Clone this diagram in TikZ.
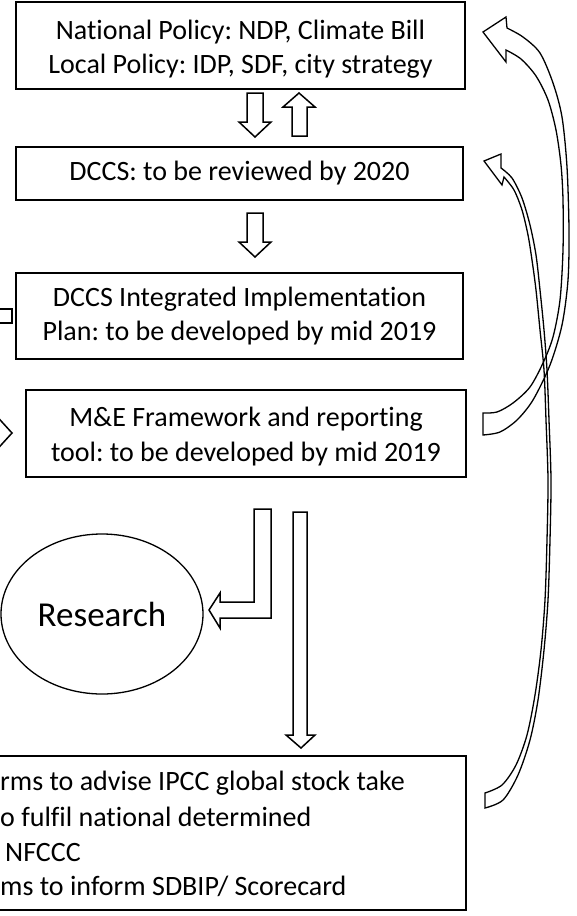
\documentclass[tikz,border=0pt]{standalone}
\usepackage{fontspec}
\setmainfont[Ligatures={NoCommon}]{Carlito}
\usetikzlibrary{shapes.geometric}
\frenchspacing
\begin{document}
\begin{tikzpicture}[x=1pt,y=-1pt,
  box/.style={draw, line width=1.3pt, inner sep=0pt, align=center, font=\fontsize{28}{34.5}\selectfont},
  txt/.style={inner sep=0pt, anchor=base west, font=\fontsize{28}{34.5}\selectfont},
  barrow/.style={draw, line width=1.5pt, fill=white, line join=miter},
  carrow/.style={draw, line width=1.3pt, line join=miter}]
\useasboundingbox (0,0) rectangle (577,916);
\clip (0,0) rectangle (577,916);
% boxes
\node[box, minimum width=449pt, minimum height=87pt] (pol) at (240.5,45.5) {\rule{0pt}{27pt}National Policy: NDP, Climate Bill\\Local Policy: IDP, SDF, city strategy};
\node[box, minimum width=447pt, minimum height=53pt] (dccs) at (239.5,173.5) {DCCS: to be reviewed by 2020};
\node[box, minimum width=447pt, minimum height=86pt] (iip) at (239.5,316) {DCCS Integrated Implementation\\Plan: to be developed by mid 2019};
\node[box, minimum width=440pt, minimum height=87pt] (me) at (246,433.5) {\rule{0pt}{25pt}M\&E Framework and reporting\\tool: to be developed by mid 2019};
\node[box, minimum width=566pt, minimum height=154pt] (out) at (183,833) {};
\node[txt] (l1) at (0,790) {rms to advise IPCC global stock take};
\node[txt] (l2) at (0,826) {o fulfil national determined};
\node[txt] (l3) at (5,861) {NFCCC};
\node[txt] (l4) at (0,895) {ms to inform SDBIP/ Scorecard};
\node[draw, ellipse, line width=1.3pt, inner sep=0pt, minimum width=202pt, minimum height=160pt, font=\fontsize{35}{40}\selectfont] (res) at (102,614) {Research};
% straight block arrows
\draw[barrow] (247,93) -- (263,93) -- (263,122) -- (271,122) -- (255,137) -- (239,122) -- (247,122) -- cycle;
\draw[barrow] (292,136) -- (307,136) -- (307,107) -- (315,107) -- (299,93) -- (283,107) -- (292,107) -- cycle;
\draw[barrow] (247,213) -- (263,213) -- (263,242) -- (271,242) -- (255,257) -- (239,242) -- (247,242) -- cycle;
\draw[barrow] (293,512) -- (307,512) -- (307,735) -- (315,735) -- (301,748) -- (286,735) -- (293,735) -- cycle;
% bent arrow to Research
\draw[barrow] (254,509) -- (271,509) -- (271,618) -- (220,618) -- (220,628) -- (209,610) -- (220,593) -- (220,602) -- (254,602) -- cycle;
% partial shapes at left edge
\draw[barrow] (-5,309) -- (12,309) -- (12,323) -- (-5,323);
\draw[barrow, fill=none] (-8,411) -- (12,433) -- (-8,455);
% curved arrow from M&E to policy
\draw[carrow] plot[smooth] coordinates {(483,413) (497,412) (513,403) (530,387) (543,363) (553,337) (560,300) (563,250) (563,200) (561,165) (556,130) (548,100) (536,76) (521,59) (506,50)}
 -- (506,62) -- (483,32) -- (506,17) -- (507,28)
 -- plot[smooth] coordinates {(507,28) (523,37) (540,53) (553,83) (562,117) (567,167) (569,230) (568,280) (562,325) (550,365) (533,400) (517,420) (500,432) (483,435)} -- cycle;
% curved arrow from outcomes to DCCS
\draw[carrow] plot[smooth] coordinates {(485,793) (502,785) (516,765) (527,735) (535,695) (541,650) (545,600) (547,540) (548,480) (546,420) (544,370) (540,330) (536,290) (532,260) (528,235) (522,210) (514,190) (504,177)}
 -- (502,185) -- (484,161) -- (501,154) -- (501,168)
 -- plot[smooth] coordinates {(501,168) (512,178) (522,198) (530,225) (536,255) (540,290) (544,330) (547,370) (549,420) (551,480) (550,540) (548,600) (544,650) (538,700) (530,740) (518,775) (503,800) (485,808)} -- cycle;
\end{tikzpicture}
\end{document}
